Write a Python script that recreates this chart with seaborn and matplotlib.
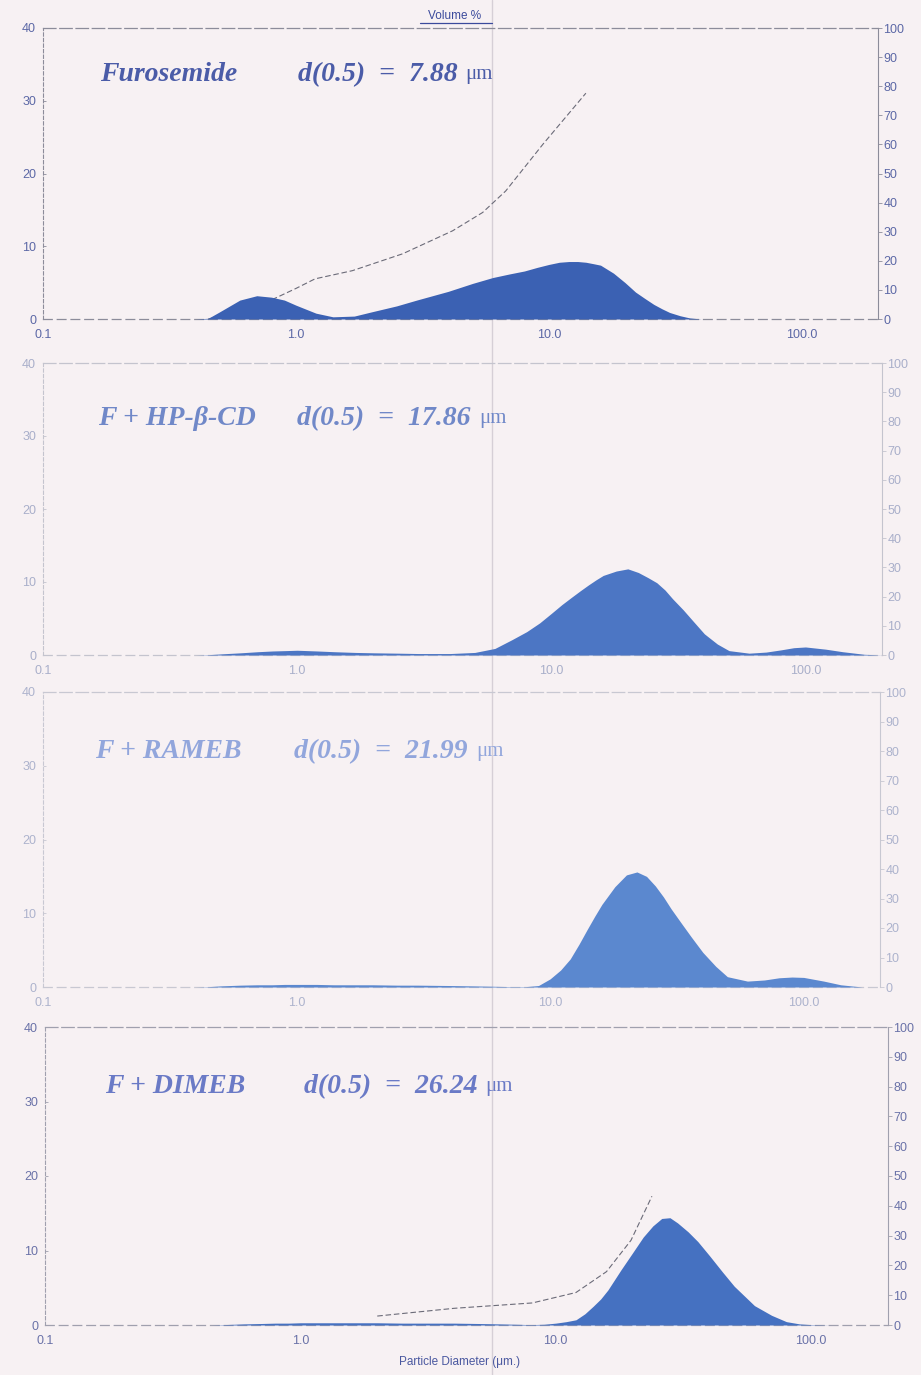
import matplotlib
matplotlib.use("Agg")
import matplotlib.pyplot as plt
from matplotlib.lines import Line2D
import seaborn as sns

# Particle size grid (µm) shared by all samples
diameter_um = [0.1, 0.15, 0.2, 0.3, 0.4, 0.45, 0.5, 0.6, 0.7, 0.8,
               0.9, 1.0, 1.2, 1.4, 1.7, 2.0, 2.5, 3.0, 4.0, 5.0,
               6, 7, 8, 9, 10, 11, 12, 13, 14, 15,
               16, 18, 20, 22, 24, 26, 28, 30, 33, 36,
               40, 45, 50, 60, 70, 80, 90, 100, 120, 140,
               170, 200]

# Volume % per size class
vol_furosemide = [0, 0, 0, 0, 0, 0.1, 1.0, 2.6, 3.2, 3.0,
                  2.6, 1.9, 0.8, 0.3, 0.4, 1.0, 1.8, 2.6, 3.8, 4.9,
                  5.7, 6.2, 6.6, 7.1, 7.5, 7.8, 7.9, 7.9, 7.8, 7.6,
                  7.4, 6.3, 5.0, 3.7, 2.8, 2.0, 1.4, 0.9, 0.45, 0.15,
                  0, 0, 0, 0, 0, 0, 0, 0, 0, 0,
                  0, 0]
vol_hpbcd = [0, 0, 0, 0, 0, 0.05, 0.15, 0.3, 0.45, 0.55,
             0.6, 0.65, 0.55, 0.45, 0.35, 0.3, 0.25, 0.2, 0.2, 0.35,
             0.9, 2.1, 3.2, 4.4, 5.7, 6.9, 7.9, 8.8, 9.6, 10.3,
             10.9, 11.5, 11.8, 11.3, 10.6, 9.9, 8.9, 7.7, 6.2, 4.7,
             2.9, 1.5, 0.6, 0.25, 0.4, 0.7, 1.0, 1.1, 0.8, 0.45,
             0.1, 0]
vol_rameb = [0, 0, 0, 0, 0, 0.05, 0.15, 0.25, 0.3, 0.3,
             0.35, 0.35, 0.35, 0.3, 0.3, 0.3, 0.25, 0.25, 0.2, 0.15,
             0.1, 0.05, 0.05, 0.2, 1.1, 2.3, 3.8, 5.8, 7.8, 9.6,
             11.2, 13.6, 15.2, 15.6, 15.0, 13.7, 12.2, 10.6, 8.6, 6.8,
             4.7, 2.8, 1.4, 0.8, 0.95, 1.25, 1.35, 1.3, 0.8, 0.3,
             0, 0]
vol_dimeb = [0, 0, 0, 0, 0, 0, 0.05, 0.15, 0.2, 0.25,
             0.25, 0.3, 0.3, 0.3, 0.3, 0.3, 0.25, 0.25, 0.25, 0.2,
             0.15, 0.1, 0.05, 0.1, 0.25, 0.45, 0.7, 1.5, 2.5, 3.5,
             4.7, 7.4, 9.7, 11.8, 13.3, 14.3, 14.4, 13.7, 12.5, 11.2,
             9.3, 7.1, 5.2, 2.6, 1.3, 0.45, 0.15, 0.05, 0, 0,
             0, 0]

# Cumulative undersize (%) where the trace is printed
cum_furosemide_d = [0.45, 0.6, 0.7, 0.83, 1.0, 1.19, 1.67, 2.64, 4.16, 5.47, 6.75, 9.46, 14.0]
cum_furosemide = [0, 2.5, 4.5, 7.2, 10.5, 13.8, 16.6, 22.4, 30.3, 36.6, 44.0, 60.0, 77.6]
cum_dimeb_d = [2.0, 4.0, 8.1, 12.0, 15.8, 19.7, 23.8]
cum_dimeb = [3.0, 5.6, 7.4, 10.9, 17.9, 28.4, 43.2]

sample_labels = ["Furosemide", "F + HP-β-CD", "F + RAMEB", "F + DIMEB"]
d50_values = ["7.88", "17.86", "21.99", "26.24"]

left_ticks = [0, 10, 20, 30, 40]
right_ticks = [0, 10, 20, 30, 40, 50, 60, 70, 80, 90, 100]
x_ticks = [0.1, 1, 10, 100]
x_tick_labels = ["0.1", "1.0", "10.0", "100.0"]

sns.set_theme(style="white")
plt.rcParams["font.family"] = ["Liberation Sans", "DejaVu Sans"]

BG = "#f7f1f3"
W, H = 921, 1375
fig = plt.figure(figsize=(W / 100, H / 100), dpi=100, facecolor=BG)

# axes frames in pixels: left, right, top, bottom
panel_px = [(43, 878, 28, 319), (43, 882, 363, 655),
            (43, 880, 692, 987), (45, 888, 1027, 1325)]
volumes = [vol_furosemide, vol_hpbcd, vol_rameb, vol_dimeb]
cumulative = [(cum_furosemide_d, cum_furosemide), None, None, (cum_dimeb_d, cum_dimeb)]
fill_colors = ["#3b61b3", "#4c76c4", "#5b88cf", "#4571c1"]
text_colors = ["#4b5ca8", "#7088c8", "#92a6dc", "#6a7ac6"]
tick_colors = ["#5c68a6", "#a9afca", "#adb3cd", "#6a72a8"]
frame_colors = ["#8c8c9a", "#c4c4ce", "#c8c8d2", "#a0a0ae"]
label_pos = [(0.068, 0.84, 0.305), (0.065, 0.81, 0.303),
             (0.062, 0.797, 0.30), (0.071, 0.80, 0.307)]

for i, (l, r, t, b) in enumerate(panel_px):
    ax = fig.add_axes([l / W, 1 - b / H, (r - l) / W, (b - t) / H])
    ax2 = ax.twinx()
    ax.set_zorder(2)
    ax2.set_zorder(1)
    ax.patch.set_visible(False)
    ax2.patch.set_visible(False)

    ax.set_xscale("log")
    ax.set_xlim(0.1, 200)
    ax.set_ylim(0, 40)
    ax2.set_ylim(0, 100)

    ax.fill_between(diameter_um, volumes[i], 0, color=fill_colors[i], lw=0, zorder=3)

    if cumulative[i] is not None:
        cd, cv = cumulative[i]
        sns.lineplot(x=cd, y=cv, ax=ax2, color="#6b6b78", lw=0.8,
                     linestyle=(0, (5, 2.5)), sort=True)
        ax2.set_xscale("log")
        ax2.set_xlim(0.1, 200)

    fc = frame_colors[i]
    ax.spines["top"].set_color(fc)
    ax.spines["top"].set_linestyle((0, (10, 3)))
    ax.spines["top"].set_linewidth(0.9)
    ax.spines["left"].set_color(fc)
    ax.spines["left"].set_linestyle((0, (3, 2)))
    ax.spines["left"].set_linewidth(0.8)
    ax.spines["bottom"].set_color(fc)
    ax.spines["bottom"].set_linestyle((0, (7, 4)))
    ax.spines["bottom"].set_linewidth(0.9)
    ax.spines["right"].set_visible(False)
    for s in ("top", "left", "bottom"):
        ax2.spines[s].set_visible(False)
    ax2.spines["right"].set_color(fc)
    ax2.spines["right"].set_linewidth(0.8)

    tc = tick_colors[i]
    ax.set_yticks(left_ticks)
    ax.set_yticklabels([str(v) for v in left_ticks])
    ax.tick_params(axis="y", left=True, length=2, width=0.6, direction="in",
                   color=fc, pad=5, labelsize=9, labelcolor=tc)
    ax.set_xticks(x_ticks)
    ax.set_xticklabels(x_tick_labels)
    ax.minorticks_off()
    ax.tick_params(axis="x", bottom=False, length=0, pad=7.5, labelsize=9, labelcolor=tc)
    ax2.set_yticks(right_ticks)
    ax2.set_yticklabels([str(v) for v in right_ticks])
    ax2.tick_params(axis="y", right=True, length=3, width=0.6, direction="out",
                    color=fc, pad=1, labelsize=9, labelcolor=tc)
    ax2.set_ylabel("")
    ax2.set_xlabel("")
    ax.set_xlabel("")
    ax.set_ylabel("")

    xs, ys, xd = label_pos[i]
    serif = dict(fontfamily=["Liberation Serif", "DejaVu Serif"], fontweight="bold",
                 fontstyle="italic", fontsize=20, color=text_colors[i])
    ax.text(xs, ys, sample_labels[i], transform=ax.transAxes, ha="left", va="center", **serif)
    td = ax.text(xd, ys, f"d(0.5)  =  {d50_values[i]}", transform=ax.transAxes,
                 ha="left", va="center", **serif)
    ax.annotate("μm", xy=(1.0, 0.12), xycoords=td, xytext=(6, 0),
                textcoords="offset points", ha="left", va="bottom",
                fontfamily=["Liberation Serif", "DejaVu Serif"], fontsize=15,
                color=text_colors[i])

# header and axis title
fig.text(455 / W, 1 - 16 / H, "Volume %", ha="center", va="center",
         fontsize=8.5, color="#3b4a9c")
fig.add_artist(Line2D([420 / W, 492 / W], [1 - 23 / H, 1 - 23 / H],
                      color="#3b4a9c", lw=0.9))
fig.text(460 / W, 1 - 1362 / H, "Particle Diameter (μm.)", ha="center", va="center",
         fontsize=8.5, color="#4a58a0")

# faint fold line across the sheet
fig.add_artist(Line2D([492 / W, 492 / W], [0, 1], color="#d6cfd6", lw=1.0, zorder=0.5))

fig.savefig("out.png", dpi=100, facecolor=BG)
